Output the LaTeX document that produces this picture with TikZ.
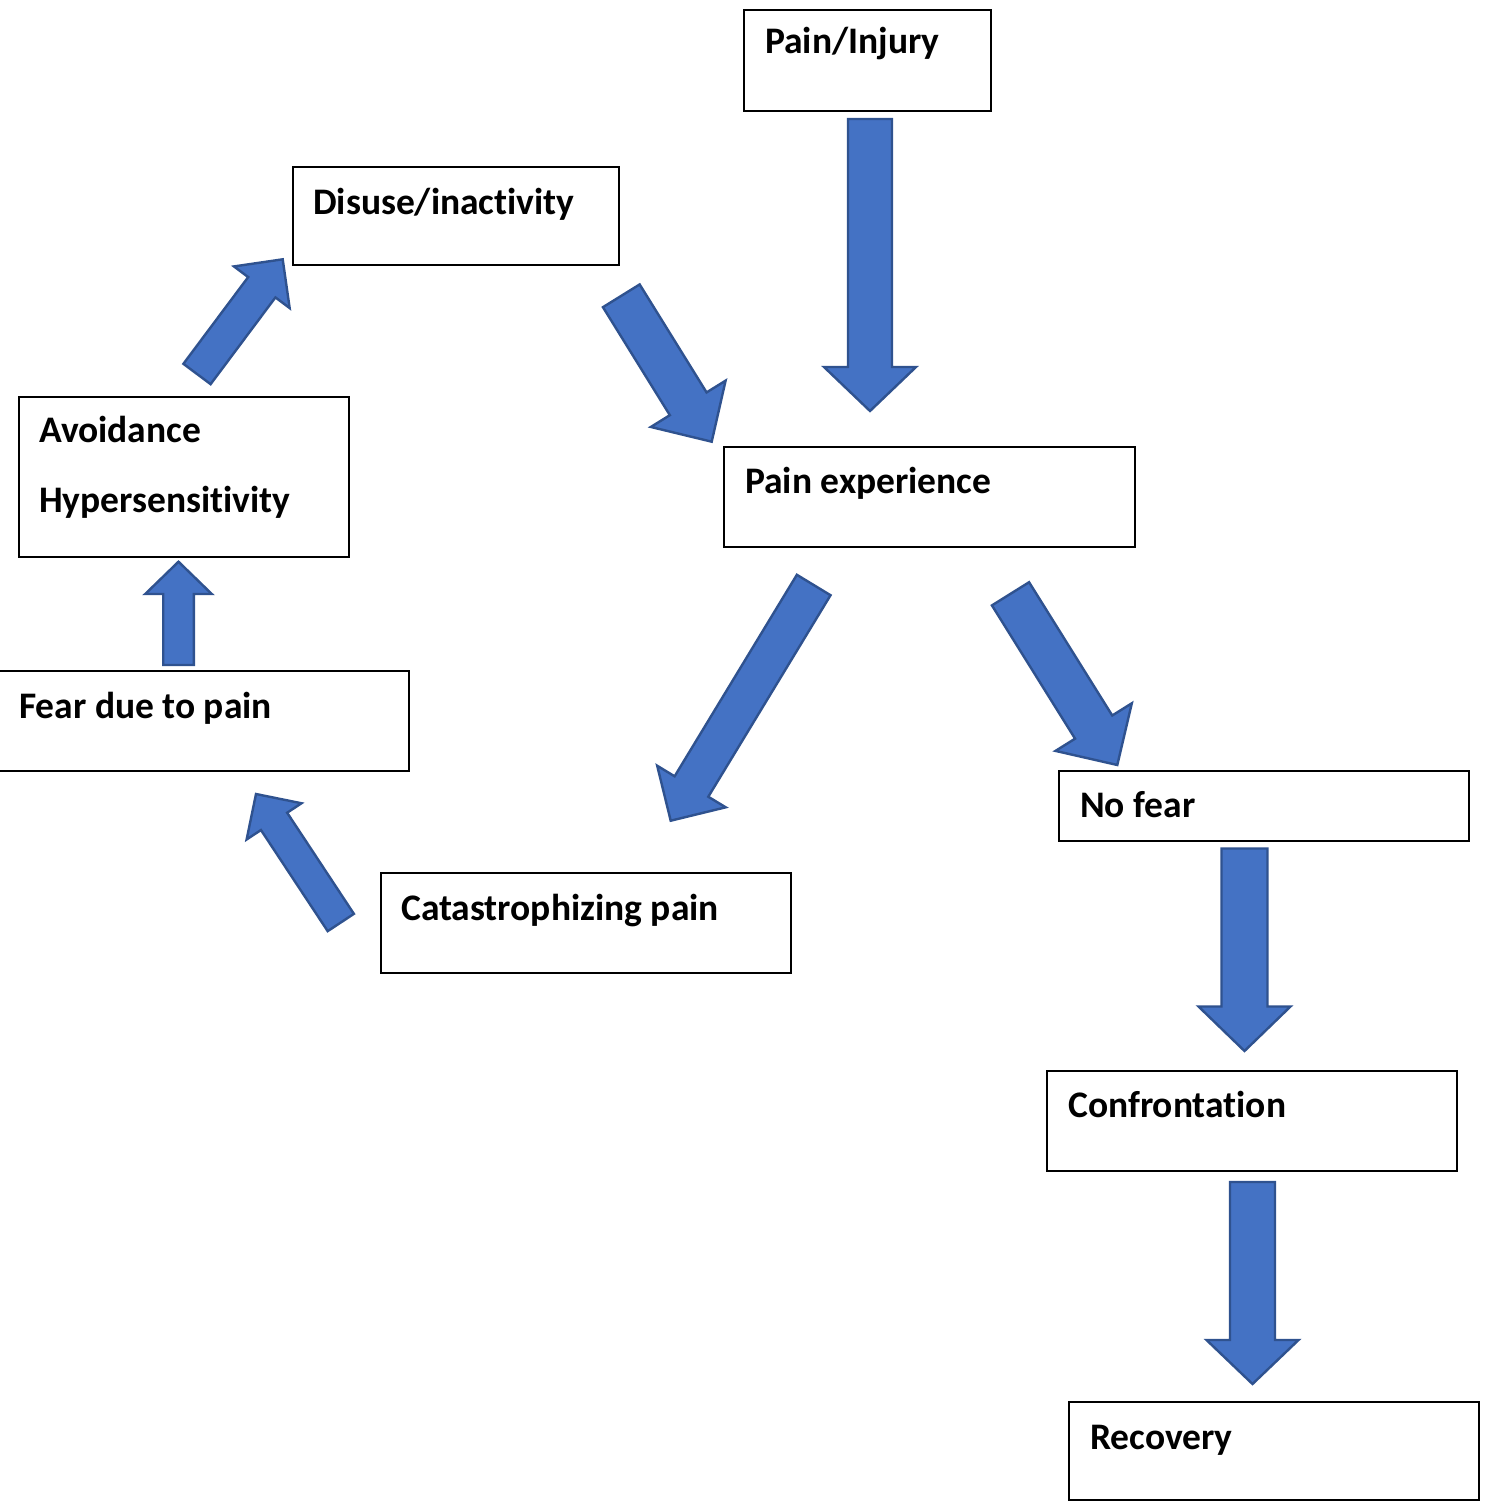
\documentclass[tikz,border=0pt]{standalone}
\usepackage{fontspec}
\setmainfont[Ligatures=NoCommon]{Carlito}
\usetikzlibrary{calc}

\definecolor{arrowfill}{HTML}{4472C4}
\definecolor{arrowline}{HTML}{2F528F}

\tikzset{
  box/.style={draw=black, line width=2pt, inner sep=0pt, anchor=north west},
  boxtext/.style={anchor=base west, inner sep=0pt, font=\fontsize{37.5}{44}\selectfont\bfseries},
  fatarrowstyle/.style={fill=arrowfill, draw=arrowline, line width=2.4pt, line join=miter}
}

% Block arrow from a tail coordinate to a tip coordinate.
% #1 tail, #2 tip, #3 half shaft width, #4 half head width, #5 head length
\newcommand\fatarrow[5]{%
  \coordinate (#1-hb) at ($(#2)!#5!(#1)$);
  \draw[fatarrowstyle]
    ($(#1)!#3!90:(#2)$) --
    ($(#1-hb)!#3!90:(#2)$) --
    ($(#1-hb)!#4!90:(#2)$) --
    (#2) --
    ($(#1-hb)!#4!-90:(#2)$) --
    ($(#1-hb)!#3!-90:(#2)$) --
    ($(#1)!#3!-90:(#2)$) -- cycle;
}

\begin{document}
\begin{tikzpicture}[x=1pt, y=-1pt]
  \useasboundingbox (0,0) rectangle (1487,1501);

  % boxes
  \node[box, minimum width=247pt, minimum height=101pt] (injury) at (743,9) {};
  \node[box, minimum width=326pt, minimum height=98pt] (disuse) at (292,166) {};
  \node[box, minimum width=330pt, minimum height=160pt] (avoid) at (18,396) {};
  \node[box, minimum width=411pt, minimum height=100pt] (exper) at (723,446) {};
  \node[box, minimum width=411pt, minimum height=100pt] (fear) at (-3,670) {};
  \node[box, minimum width=410pt, minimum height=70pt] (nofear) at (1058,770) {};
  \node[box, minimum width=410pt, minimum height=100pt] (catas) at (380,872) {};
  \node[box, minimum width=410pt, minimum height=100pt] (confr) at (1046,1070) {};
  \node[box, minimum width=410pt, minimum height=98pt] (recov) at (1068,1401) {};

  % labels
  \node[boxtext] (t-injury) at (765,54) {Pain/Injury};
  \node[boxtext] (t-disuse) at (313,214) {Disuse/inactivity};
  \node[boxtext] (t-avoid) at (39,442) {Avoidance};
  \node[boxtext] (t-hyper) at (39,512) {Hypersensitivity};
  \node[boxtext] (t-exper) at (745,493) {Pain experience};
  \node[boxtext] (t-fear) at (19,718) {Fear due to pain};
  \node[boxtext] (t-nofear) at (1080,817) {No fear};
  \node[boxtext] (t-catas) at (401,920) {Catastrophizing pain};
  \node[boxtext] (t-confr) at (1068,1117) {Confrontation};
  \node[boxtext] (t-recov) at (1090,1449) {Recovery};

  % arrow ends
  \coordinate (a1) at (870,119);      \coordinate (a1t) at (870,411);
  \coordinate (a2) at (621.3,295.8);  \coordinate (a2t) at (711.7,441.7);
  \coordinate (a3) at (197,374);      \coordinate (a3t) at (282.7,259.3);
  \coordinate (a4) at (178.5,665);    \coordinate (a4t) at (178.5,561.7);
  \coordinate (a5) at (340.8,922.5);  \coordinate (a5t) at (256,794);
  \coordinate (a6) at (813.7,585);    \coordinate (a6t) at (670.7,820.7);
  \coordinate (a7) at (1010.5,593.8); \coordinate (a7t) at (1117.3,765);
  \coordinate (a8) at (1244.5,848.5); \coordinate (a8t) at (1244.5,1051);
  \coordinate (a9) at (1252.5,1182);  \coordinate (a9t) at (1252.5,1384);

  % block arrows
  \fatarrow{a1}{a1t}{22pt}{46pt}{44pt}
  \fatarrow{a2}{a2t}{21.6pt}{44pt}{44.6pt}
  \fatarrow{a3}{a3t}{17pt}{34.8pt}{34.9pt}
  \fatarrow{a4}{a4t}{15.3pt}{33.3pt}{32.3pt}
  \fatarrow{a5}{a5t}{15.7pt}{32.9pt}{32.8pt}
  \fatarrow{a6}{a6t}{19.7pt}{40.1pt}{40pt}
  \fatarrow{a7}{a7t}{21.9pt}{45pt}{44.7pt}
  \fatarrow{a8}{a8t}{23pt}{46pt}{44.5pt}
  \fatarrow{a9}{a9t}{22.5pt}{46pt}{44pt}
\end{tikzpicture}
\end{document}
